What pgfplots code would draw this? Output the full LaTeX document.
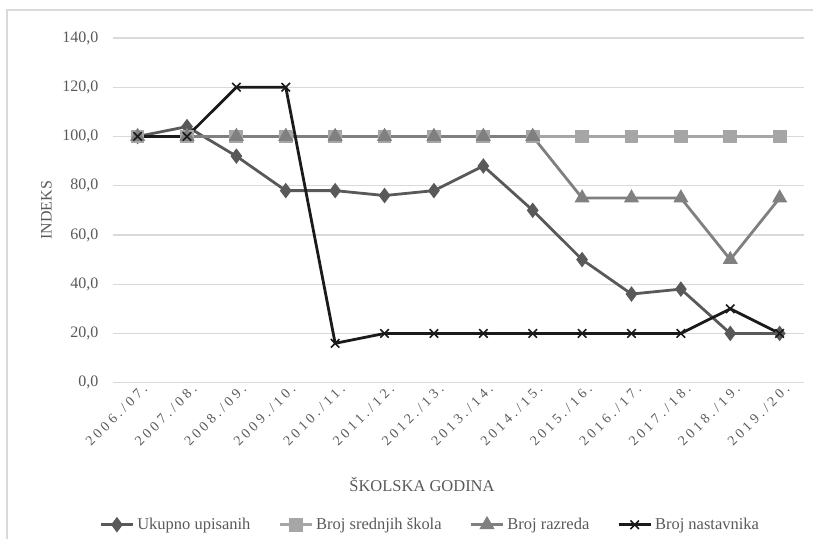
\documentclass[border=0pt]{standalone}
\usepackage{pgfplots}
\pgfplotsset{compat=1.18}
\usepackage{fontspec}
\setmainfont{Liberation Serif}
\newfontfamily\spaced[LetterSpace=25]{Liberation Serif}

\definecolor{txt}{HTML}{595959}
\definecolor{gridc}{HTML}{D9D9D9}
\definecolor{frame}{HTML}{D9D9D9}
\definecolor{cUk}{HTML}{595959}
\definecolor{cSk}{HTML}{A6A6A6}
\definecolor{cRz}{HTML}{808080}
\definecolor{cNs}{HTML}{1A1A1A}

\begin{document}
\begin{tikzpicture}
\begin{axis}[
  name=ax,
  scale only axis,
  width=692pt, height=345pt,
  xmin=-0.5, xmax=13.5,
  ymin=0, ymax=140,
  ytick={0,20,...,140},
  xtick={0,...,13},
  xticklabels={2006./07.,2007./08.,2008./09.,2009./10.,2010./11.,2011./12.,2012./13.,2013./14.,2014./15.,2015./16.,2016./17.,2017./18.,2018./19.,2019./20.},
  axis line style={draw=none},
  major tick length=0pt,
  ymajorgrids,
  grid style={gridc, line width=1.3pt},
  /pgf/number format/assume math mode=true,
  yticklabel={\pgfmathprintnumber[fixed,fixed zerofill,precision=1,use comma]{\tick}},
  y tick label style={font=\fontsize{16}{16}\selectfont, text=txt, xshift=-11pt},
  x tick label style={font=\fontsize{14}{14}\spaced, text=txt, rotate=45, anchor=east, xshift=6pt, yshift=-8pt},
  ylabel={INDEKS},
  ylabel style={font=\fontsize{16}{16}\selectfont, text=txt, at={(rel axis cs:-0.096,0.5)}, anchor=center},
  xlabel={ŠKOLSKA GODINA},
  xlabel style={font=\fontsize{16.5}{16.5}\selectfont, text=txt, at={(rel axis cs:0.447,-0.296)}, anchor=center},
  legend columns=4,
  legend style={draw=none, fill=none, at={(rel axis cs:0.459,-0.412)}, anchor=center,
    font=\fontsize{16.5}{16.5}\selectfont, text=txt,
    /tikz/every even column/.append style={column sep=26pt},
    /tikz/every odd column/.append style={column sep=1pt}},
  legend image code/.code={
    \draw[mark repeat=2,mark phase=2] plot coordinates {(0pt,0pt) (16pt,0pt) (32pt,0pt)};
  },
  every axis plot/.append style={line width=2.8pt, mark options={solid}},
]
\addplot[cUk, mark=diamond*, mark size=5.5pt] coordinates {
  (0,100) (1,104) (2,92) (3,78) (4,78) (5,76) (6,78) (7,88) (8,70) (9,50) (10,36) (11,38) (12,20) (13,20)};
\addlegendentry{Ukupno upisanih}
\addplot[cSk, mark=square*, mark size=5.5pt] coordinates {
  (0,100) (1,100) (2,100) (3,100) (4,100) (5,100) (6,100) (7,100) (8,100) (9,100) (10,100) (11,100) (12,100) (13,100)};
\addlegendentry{Broj srednjih škola}
\addplot[cRz, mark=triangle*, mark size=6pt] coordinates {
  (0,100) (1,100) (2,100) (3,100) (4,100) (5,100) (6,100) (7,100) (8,100) (9,75) (10,75) (11,75) (12,50) (13,75)};
\addlegendentry{Broj razreda}
\addplot[cNs, mark=x, mark size=6pt, mark options={line width=1.6pt}] coordinates {
  (0,100) (1,100) (2,120) (3,120) (4,16) (5,20) (6,20) (7,20) (8,20) (9,20) (10,20) (11,20) (12,30) (13,20)};
\addlegendentry{Broj nastavnika}
\end{axis}
% chart frame (left and top edges) and the page extent
\draw[frame, line width=1.3pt]
  ([shift={(-106pt,-156pt)}]ax.south west) -- ([shift={(-106pt,373pt)}]ax.south west)
  -- ([shift={(701pt,373pt)}]ax.south west);
\path ([shift={(-113pt,-156pt)}]ax.south west) rectangle ++(814pt,539pt);
\end{tikzpicture}
\end{document}
